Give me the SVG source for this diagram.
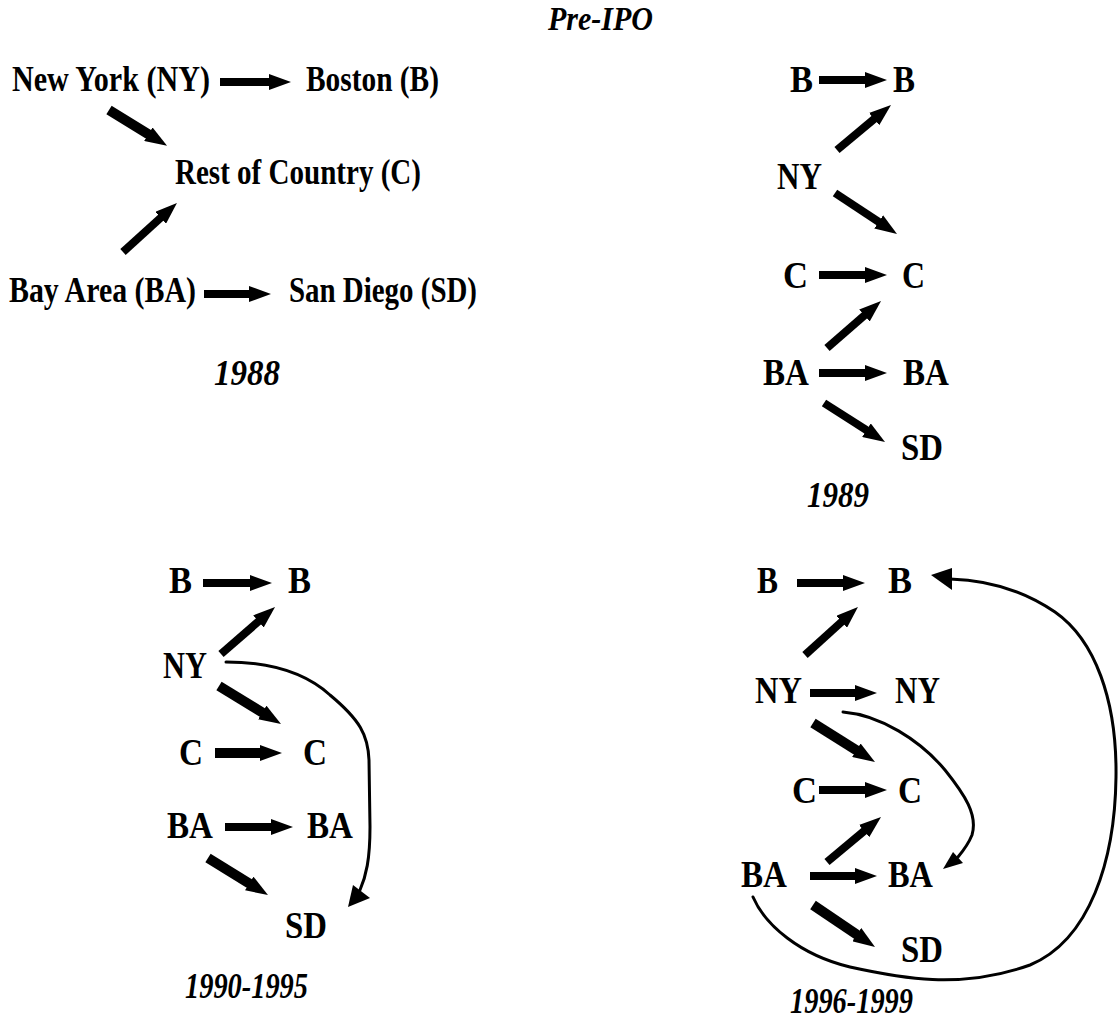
<svg xmlns="http://www.w3.org/2000/svg" width="1118" height="1028" viewBox="0 0 1118 1028">
<defs>
<style>
text{font-family:"Liberation Serif","Times New Roman",serif;font-weight:bold;fill:#000}
.lbl{font-size:37px}
.big{font-size:36px}
.yr{font-size:36px;font-style:italic}
.ttl{font-size:33px;font-style:italic}
.a{stroke:#000;stroke-width:8;fill:none;marker-end:url(#h)}
.t{stroke-width:10}
.c{stroke:#000;stroke-width:3;fill:none;stroke-linecap:round}
.hd{fill:#000}
</style>
<marker id="h" markerUnits="userSpaceOnUse" markerWidth="22" markerHeight="16" viewBox="0 0 22 16" refX="1" refY="8" orient="auto">
<path d="M0,0 L22,8 L0,16 z" fill="#000"/>
</marker>
</defs>
<rect width="1118" height="1028" fill="#fff"/>

<text id="title" class="ttl" x="548" y="30" textLength="105" lengthAdjust="spacingAndGlyphs">Pre-IPO</text>

<!-- 1988 -->
<g id="p1988">
<g id="n88-ny"><text class="big" x="12" y="91" textLength="198" lengthAdjust="spacingAndGlyphs">New York (NY)</text></g>
<g id="n88-b"><text class="big" x="306" y="91" textLength="133" lengthAdjust="spacingAndGlyphs">Boston (B)</text></g>
<g id="n88-c"><text class="big" x="175" y="184" textLength="246" lengthAdjust="spacingAndGlyphs">Rest of Country (C)</text></g>
<g id="n88-ba"><text class="big" x="9" y="302" textLength="187" lengthAdjust="spacingAndGlyphs">Bay Area (BA)</text></g>
<g id="n88-sd"><text class="big" x="289" y="302" textLength="188" lengthAdjust="spacingAndGlyphs">San Diego (SD)</text></g>
<text id="y1988" class="yr" x="214" y="385" textLength="66" lengthAdjust="spacingAndGlyphs">1988</text>
</g>

<!-- 1989 -->
<g id="p1989">
<g id="n89-b1"><text class="lbl" x="790" y="92" textLength="23" lengthAdjust="spacingAndGlyphs">B</text></g>
<g id="n89-b2"><text class="lbl" x="893" y="92" textLength="22" lengthAdjust="spacingAndGlyphs">B</text></g>
<g id="n89-ny"><text class="lbl" x="777" y="189" textLength="45" lengthAdjust="spacingAndGlyphs">NY</text></g>
<g id="n89-c1"><text class="lbl" x="783" y="288" textLength="25" lengthAdjust="spacingAndGlyphs">C</text></g>
<g id="n89-c2"><text class="lbl" x="902" y="288" textLength="23" lengthAdjust="spacingAndGlyphs">C</text></g>
<g id="n89-ba1"><text class="lbl" x="763" y="385" textLength="46" lengthAdjust="spacingAndGlyphs">BA</text></g>
<g id="n89-ba2"><text class="lbl" x="903" y="385" textLength="46" lengthAdjust="spacingAndGlyphs">BA</text></g>
<g id="n89-sd"><text class="lbl" x="901" y="460" textLength="42" lengthAdjust="spacingAndGlyphs">SD</text></g>
<text id="y1989" class="yr" x="807" y="507" textLength="62" lengthAdjust="spacingAndGlyphs">1989</text>
</g>

<!-- 1990-1995 -->
<g id="p1990">
<g id="n90-b1"><text class="lbl" x="169" y="593" textLength="23" lengthAdjust="spacingAndGlyphs">B</text></g>
<g id="n90-b2"><text class="lbl" x="288" y="593" textLength="23" lengthAdjust="spacingAndGlyphs">B</text></g>
<g id="n90-ny"><text class="lbl" x="163" y="678" textLength="44" lengthAdjust="spacingAndGlyphs">NY</text></g>
<g id="n90-c1"><text class="lbl" x="179" y="765" textLength="24" lengthAdjust="spacingAndGlyphs">C</text></g>
<g id="n90-c2"><text class="lbl" x="303" y="765" textLength="24" lengthAdjust="spacingAndGlyphs">C</text></g>
<g id="n90-ba1"><text class="lbl" x="167" y="838" textLength="46" lengthAdjust="spacingAndGlyphs">BA</text></g>
<g id="n90-ba2"><text class="lbl" x="307" y="838" textLength="46" lengthAdjust="spacingAndGlyphs">BA</text></g>
<g id="n90-sd"><text class="lbl" x="285" y="938" textLength="42" lengthAdjust="spacingAndGlyphs">SD</text></g>
<text id="y1990" class="yr" x="185" y="998" textLength="123" lengthAdjust="spacingAndGlyphs">1990-1995</text>
</g>

<!-- 1996-1999 -->
<g id="p1996">
<g id="n96-b1"><text class="lbl" x="757" y="593" textLength="21" lengthAdjust="spacingAndGlyphs">B</text></g>
<g id="n96-b2"><text class="lbl" x="888" y="593" textLength="24" lengthAdjust="spacingAndGlyphs">B</text></g>
<g id="n96-ny1"><text class="lbl" x="755" y="703" textLength="47" lengthAdjust="spacingAndGlyphs">NY</text></g>
<g id="n96-ny2"><text class="lbl" x="895" y="703" textLength="45" lengthAdjust="spacingAndGlyphs">NY</text></g>
<g id="n96-c1"><text class="lbl" x="792" y="803" textLength="25" lengthAdjust="spacingAndGlyphs">C</text></g>
<g id="n96-c2"><text class="lbl" x="898" y="803" textLength="24" lengthAdjust="spacingAndGlyphs">C</text></g>
<g id="n96-ba1"><text class="lbl" x="741" y="887" textLength="46" lengthAdjust="spacingAndGlyphs">BA</text></g>
<g id="n96-ba2"><text class="lbl" x="888" y="887" textLength="45" lengthAdjust="spacingAndGlyphs">BA</text></g>
<g id="n96-sd"><text class="lbl" x="901" y="962" textLength="42" lengthAdjust="spacingAndGlyphs">SD</text></g>
<text id="y1996" class="yr" x="790" y="1013" textLength="123" lengthAdjust="spacingAndGlyphs">1996-1999</text>
</g>

<g id="connectors">
<!-- 1988 -->
<line class="a" x1="220" y1="82" x2="270" y2="82"/>
<line class="a t" x1="109" y1="110" x2="149.2" y2="134.8"/>
<line class="a" x1="123" y1="252" x2="161.4" y2="217.1"/>
<line class="a" x1="204" y1="294" x2="250" y2="294"/>
<!-- 1989 -->
<line class="a" x1="819" y1="80" x2="866" y2="80"/>
<line class="a" x1="837" y1="150" x2="874.9" y2="118.4"/>
<line class="a" x1="835" y1="193" x2="879.5" y2="222.4"/>
<line class="a" x1="819" y1="275" x2="866" y2="275"/>
<line class="a" x1="827" y1="348" x2="865.2" y2="314.8"/>
<line class="a" x1="819" y1="373" x2="866" y2="373"/>
<line class="a" x1="824" y1="403" x2="867.3" y2="430.7"/>
<!-- 1990-1995 -->
<line class="a" x1="203" y1="583" x2="251" y2="583"/>
<line class="a" x1="221" y1="654" x2="259.2" y2="620.8"/>
<line class="a t" x1="219" y1="686" x2="263.1" y2="713"/>
<line class="a t" x1="215" y1="753" x2="261" y2="753"/>
<line class="a" x1="225" y1="827" x2="272" y2="827"/>
<line class="a t" x1="208" y1="858" x2="250.1" y2="884"/>
<path class="c" d="M226,662 C260,662 300,668 330,695 C360,720 368,735 369,760 L370,827 C370,860 366,876 360,890"/>
<polygon class="hd" points="353,885 370,898 348,907"/>
<!-- 1996-1999 -->
<line class="a" x1="797" y1="583" x2="844" y2="583"/>
<line class="a" x1="805" y1="655" x2="842.4" y2="621.1"/>
<line class="a" x1="810" y1="693" x2="856" y2="693"/>
<line class="a t" x1="813" y1="723" x2="857.2" y2="750.8"/>
<line class="a" x1="819" y1="790" x2="866" y2="790"/>
<line class="a" x1="827" y1="862" x2="864.9" y2="830.4"/>
<line class="a" x1="810" y1="876" x2="856" y2="876"/>
<line class="a t" x1="813" y1="905" x2="857.6" y2="935.2"/>
<path class="c" d="M843,712 C880,715 920,740 945,770 C965,795 978,815 972,835 C968,845 963,851 958,857"/>
<polygon class="hd" points="953,852 963,863 943,869"/>
<path class="c" d="M753,897 C765,925 800,955 850,967 C900,978 960,990 1030,965 C1090,940 1115,860 1116,777 C1117,700 1095,640 1055,612 C1020,588 985,580 950,579"/>
<polygon class="hd" points="952,568 952,590 931,575"/>
</g>
</svg>
